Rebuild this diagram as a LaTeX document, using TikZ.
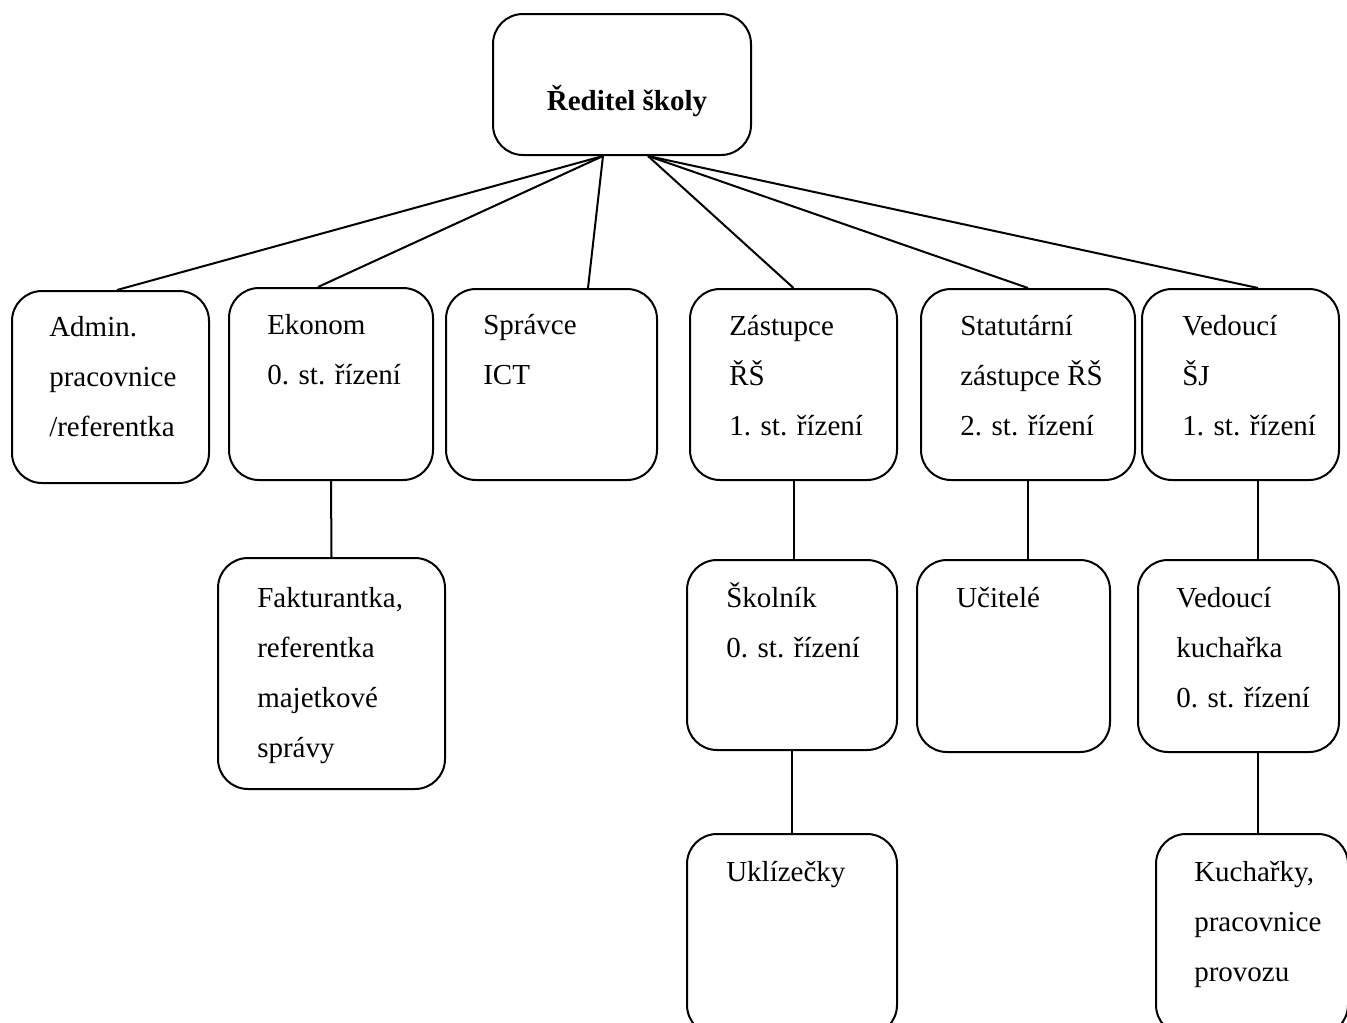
\documentclass[tikz,border=0pt]{standalone}
\usepackage{fontspec}
\setmainfont{Liberation Serif}
\usetikzlibrary{calc}
\newlength{\pxu}
\setlength{\pxu}{0.75pt}

\tikzset{
  unit/.style 2 args={draw, line width=1.5pt, rounded corners=30\pxu, inner sep=0pt,
    minimum width=#1\pxu, minimum height=#2\pxu},
  txt/.style={anchor=base west, align=left, inner sep=0pt,
    font=\fontsize{21.75}{37.5}\selectfont},
  link/.style={line width=1.5pt}
}

\begin{document}
\begin{tikzpicture}[x=\pxu, y=-\pxu]

        \useasboundingbox (0,0) rectangle (1347,1022);
        \clip (0,0) rectangle (1347,1022);

        % Head
        \node[unit={258}{141}] (red) at (622,84.5) {};
        \node[txt, anchor=base, font=\fontsize{21.75}{37.5}\selectfont\bfseries] (redT) at (627,110) {Ředitel školy};

        % First level
        \node[unit={197}{192}] (admin) at (110.5,387) {};
        \node[unit={204}{192}] (eko) at (331,384) {};
        \node[unit={211}{191}] (ict) at (551.5,384.5) {};
        \node[unit={207}{191}] (zast) at (793.5,384.5) {};
        \node[unit={214}{191}] (stat) at (1028,384.5) {};
        \node[unit={197}{191}] (vsj) at (1240.5,384.5) {};

        % Second level
        \node[unit={227}{231}] (fakt) at (331.5,673.5) {};
        \node[unit={210}{190}] (skol) at (792,655) {};
        \node[unit={193}{192}] (ucit) at (1013.5,656) {};
        \node[unit={201}{192}] (vkuch) at (1238.5,656) {};

        % Third level
        \node[unit={210}{201}] (ukl) at (792,934.5) {};
        \node[unit={192}{201}] (kuch) at (1252,934.5) {};

        % Texts (anchored on the baseline of the last line)
        \node[txt] (adminT) at ($(admin.north west)+(38,146)$) {Admin.\\pracovnice\\/referentka};
        \node[txt] (ekoT) at ($(eko.north west)+(39,97)$) {Ekonom\\0. st. řízení};
        \node[txt] (ictT) at ($(ict.north west)+(38,96)$) {Správce\\ICT};
        \node[txt] (zastT) at ($(zast.north west)+(40,147)$) {Zástupce\\ŘŠ\\1. st. řízení};
        \node[txt] (statT) at ($(stat.north west)+(40,147)$) {Statutární\\zástupce ŘŠ\\2. st. řízení};
        \node[txt] (vsjT) at ($(vsj.north west)+(41,147)$) {Vedoucí\\ŠJ\\1. st. řízení};
        \node[txt] (faktT) at ($(fakt.north west)+(40,200)$) {Fakturantka,\\referentka\\majetkové\\správy};
        \node[txt] (skolT) at ($(skol.north west)+(40,98)$) {Školník\\0. st. řízení};
        \node[txt] (ucitT) at ($(ucit.north west)+(40,48)$) {Učitelé};
        \node[txt] (vkuchT) at ($(vkuch.north west)+(39,148)$) {Vedoucí\\kuchařka\\0. st. řízení};
        \node[txt] (uklT) at ($(ukl.north west)+(40,48)$) {Uklízečky};
        \node[txt] (kuchT) at ($(kuch.north west)+(39,148)$) {Kuchařky,\\pracovnice\\provozu};

        % Links from the head
        \coordinate (hubL) at ($(red.south)+(-19,0)$);
        \coordinate (hubR) at ($(red.south)+(26,0)$);
        \draw[link] (hubL) -- ($(admin.north)+(6.5,0)$);
        \draw[link] (hubL) -- ($(eko.north)+(-13,0)$);
        \draw[link] (hubL) -- ($(ict.north)+(36.5,0)$);
        \draw[link] (hubR) -- (zast.north);
        \draw[link] (hubR) -- (stat.north);
        \draw[link] (hubR) -- ($(vsj.north)+(17.5,0)$);

        % Links down
        \coordinate (vsjB) at ($(vsj.south)+(17.5,0)$);
        \draw[link] (eko.south) -- (fakt.north);
        \draw[link] (zast.south) -- (zast.south |- skol.north);
        \draw[link] (stat.south) -- (stat.south |- ucit.north);
        \draw[link] (vsjB) -- (vsjB |- vkuch.north);
        \draw[link] (skol.south) -- (ukl.north);
        \draw[link] (vsjB |- vkuch.south) -- (vsjB |- kuch.north);

\end{tikzpicture}
\end{document}
